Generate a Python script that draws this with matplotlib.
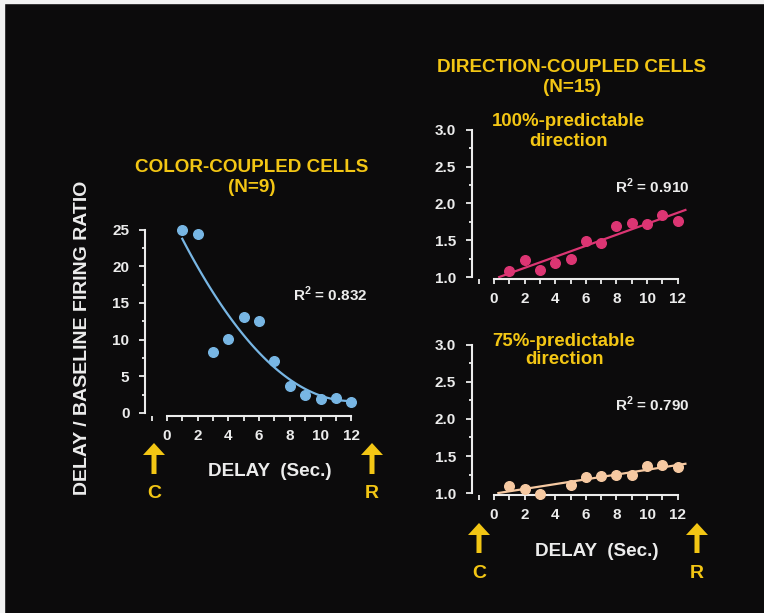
import matplotlib
matplotlib.use("Agg")
import matplotlib.pyplot as plt
import matplotlib.ticker as ticker
import numpy as np
from matplotlib.patches import Rectangle

plt.rcParams['font.family'] = ['Liberation Sans', 'DejaVu Sans']
plt.rcParams['font.weight'] = 'bold'
plt.rcParams['mathtext.fontset'] = 'custom'
plt.rcParams['mathtext.rm'] = 'Liberation Sans:bold'
plt.rcParams['mathtext.bf'] = 'Liberation Sans:bold'

# color-coupled cells (N=9)
color_delay = [1, 2, 3, 4, 5, 6, 7, 8, 9, 10, 11, 12]
color_ratio = [24.9, 24.4, 8.3, 10.1, 13.1, 12.6, 7.1, 3.7, 2.5, 1.9, 2.0, 1.5]

# direction-coupled cells (N=15), 100% predictable
dir100_delay = [1, 2, 3, 4, 5, 6, 7, 8, 9, 10, 11, 12]
dir100_ratio = [1.08, 1.23, 1.09, 1.19, 1.25, 1.49, 1.46, 1.69, 1.73, 1.72, 1.85, 1.76]

# 75% predictable
dir75_delay = [1, 2, 3, 5, 6, 7, 8, 9, 10, 11, 12]
dir75_ratio = [1.10, 1.06, 0.99, 1.11, 1.22, 1.23, 1.25, 1.24, 1.36, 1.38, 1.35]

x_ticks = [0, 2, 4, 6, 8, 10, 12]

BG = '#0c0b0c'
YEL = '#f3c614'
WHITE = '#ececec'
BLUE = '#78b6e4'
PINK = '#dc3573'
PEACH = '#f6c9a2'

W, H = 764, 613
fig = plt.figure(figsize=(W / 100, H / 100), dpi=100, facecolor=BG)


def px_axes(left, right, top, bottom):
    return fig.add_axes([left / W, 1 - bottom / H, (right - left) / W, (bottom - top) / H])


def style(ax, ymaj, ymin, ylo, yhi):
    ax.set_facecolor('none')
    for s in ['top', 'right']:
        ax.spines[s].set_visible(False)
    for s in ['left', 'bottom']:
        ax.spines[s].set_color(WHITE)
        ax.spines[s].set_linewidth(1.5)
    ax.spines['left'].set_bounds(ylo, yhi)
    ax.spines['bottom'].set_bounds(0, 12)
    ax.xaxis.set_major_locator(ticker.FixedLocator(x_ticks))
    ax.xaxis.set_minor_locator(ticker.MultipleLocator(1))
    ax.yaxis.set_major_locator(ticker.MultipleLocator(ymaj))
    ax.yaxis.set_minor_locator(ticker.MultipleLocator(ymin))
    ax.tick_params(axis='both', which='both', colors=WHITE, width=1.3, labelsize=11)
    ax.tick_params(axis='y', which='major', length=4.5, pad=7)
    ax.tick_params(axis='y', which='minor', length=2.5)
    ax.tick_params(axis='x', which='both', length=3.5, pad=6)
    for lab in ax.get_xticklabels() + ax.get_yticklabels():
        lab.set_fontweight('bold')


# left panel
ax1 = px_axes(145.4, 362, 226, 415.5)
ax1.set_xlim(-1.4, 12.7)
ax1.set_ylim(-0.35, 25.5)
style(ax1, 5, 2.5, 0, 25)
c = np.polyfit(color_delay, color_ratio, 2)
xs = np.linspace(1, 12.1, 100)
ax1.plot(xs, np.polyval(c, xs), color=BLUE, lw=1.6, clip_on=False)
ax1.scatter(color_delay, color_ratio, s=48, color=BLUE, zorder=3, clip_on=False)
ax1.yaxis.set_major_formatter(ticker.FormatStrFormatter('%d'))

# top right panel
ax2 = px_axes(472, 690, 127, 278.5)
ax2.set_xlim(-1.43, 12.8)
ax2.set_ylim(0.98, 3.04)
style(ax2, 0.5, 0.25, 1.0, 3.0)
a, b = np.polyfit(dir100_delay, dir100_ratio, 1)
xs = np.linspace((1.0 - b) / a, 12.5, 50)
ax2.plot(xs, a * xs + b, color=PINK, lw=1.6, clip_on=False)
ax2.scatter(dir100_delay, dir100_ratio, s=48, color=PINK, zorder=3, clip_on=False)
ax2.yaxis.set_major_formatter(ticker.FormatStrFormatter('%.1f'))

# bottom right panel
ax3 = px_axes(472, 690, 342, 494.5)
ax3.set_xlim(-1.43, 12.8)
ax3.set_ylim(0.98, 3.04)
style(ax3, 0.5, 0.25, 1.0, 3.0)
a, b = np.polyfit(dir75_delay, dir75_ratio, 1)
xs = np.linspace(max((1.0 - b) / a, 0.2), 12.5, 50)
ax3.plot(xs, a * xs + b, color=PEACH, lw=1.6, clip_on=False)
ax3.scatter(dir75_delay, dir75_ratio, s=48, color=PEACH, zorder=3, clip_on=False)
ax3.yaxis.set_major_formatter(ticker.FormatStrFormatter('%.1f'))

# overlay in pixel coordinates for texts and arrows
ov = fig.add_axes([0, 0, 1, 1])
ov.set_xlim(0, W)
ov.set_ylim(H, 0)
ov.axis('off')
ov.patch.set_alpha(0)

ov.add_patch(Rectangle((0, 0), W, 3, color='#f2f2f2'))
ov.add_patch(Rectangle((0, 0), 4, H, color='#f2f2f2'))

def t(x, y, s, color=YEL, size=13, **kw):
    ov.text(x, y, s, color=color, fontsize=size, fontweight='bold',
            ha='center', va='center', **kw)

t(252, 167, 'COLOR-COUPLED CELLS', size=13.6)
t(252, 187, '(N=9)', size=13.6)
t(572, 67, 'DIRECTION-COUPLED CELLS', size=13.6)
t(572, 87, '(N=15)', size=13.6)
t(568, 122, '100%-predictable', size=13.4)
t(568, 141, 'direction', size=13.4)
t(564, 341, '75%-predictable', size=13.4)
t(564, 360, 'direction', size=13.4)

t(330, 294, r'R$^{2}$ = 0.832', color=WHITE, size=11)
t(652, 186, r'R$^{2}$ = 0.910', color=WHITE, size=11)
t(652, 404, r'R$^{2}$ = 0.790', color=WHITE, size=11)

t(83, 338, 'DELAY / BASELINE FIRING RATIO', color=WHITE, size=14, rotation=90)
t(270, 471, 'DELAY  (Sec.)', color=WHITE, size=13.6)
t(597, 551, 'DELAY  (Sec.)', color=WHITE, size=13.6)

for x, tip, tail, ty, lab in [(154, 443, 474, 494, 'C'), (372, 443, 474, 494, 'R'),
                              (479, 523, 553, 574, 'C'), (697, 523, 553, 574, 'R')]:
    ov.arrow(x, tail, 0, tip - tail, width=5, head_width=22, head_length=12,
             length_includes_head=True, color=YEL, lw=0)
    t(x, ty, lab, size=14)

fig.savefig('out.png', dpi=100, facecolor=BG)
